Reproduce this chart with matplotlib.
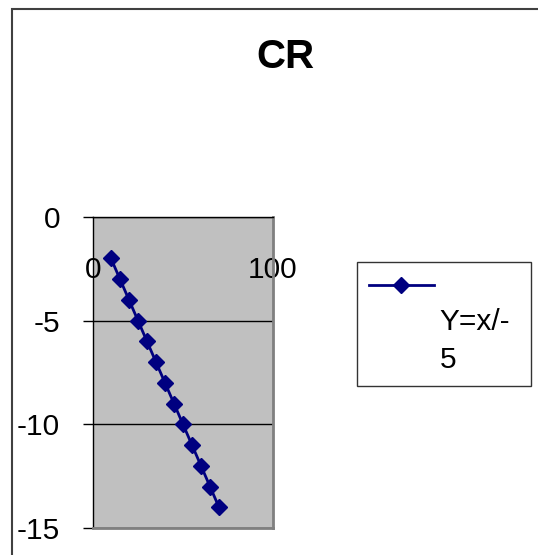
import matplotlib
matplotlib.use("Agg")
import matplotlib.pyplot as plt
from matplotlib.lines import Line2D
from matplotlib.patches import Rectangle

plt.rcParams['font.family'] = ['Liberation Sans', 'DejaVu Sans']
plt.rcParams['axes.unicode_minus'] = False

# series data
x_values = [10, 15, 20, 25, 30, 35, 40, 45, 50, 55, 60, 65, 70]
y_values = [-2, -3, -4, -5, -6, -7, -8, -9, -10, -11, -12, -13, -14]
series_label = "Y=x/-\n5"
chart_title = "CR"
x_ticks = [0, 100]
y_ticks = [0, -5, -10, -15]

W, H = 538, 555
fig = plt.figure(figsize=(W / 100, H / 100), dpi=100)
fig.patch.set_facecolor("white")

# chart-area border (top and left edges visible)
fig.patches.append(Rectangle((12 / W, -0.1), 1.2, 1.1 - 9 / H,
                             transform=fig.transFigure, fill=False,
                             edgecolor="#404040", linewidth=1.5, clip_on=False))

ax = fig.add_axes([93 / W, 1 - 528 / H, (273 - 93) / W, (528 - 217) / H])
ax.set_facecolor("#c0c0c0")
ax.set_xlim(0, 100)
ax.set_ylim(-15, 0)

ax.set_yticks(y_ticks)
ax.set_yticklabels([str(v) for v in y_ticks])
ax.set_xticks(x_ticks)
ax.set_xticklabels([str(v) for v in x_ticks])

FS = 21.5
ax.tick_params(axis="y", direction="out", length=7.2, width=1, color="black",
               pad=16.5, labelsize=FS)
ax.tick_params(axis="x", length=0, labelbottom=False, labeltop=True,
               pad=-48.5, labelsize=FS)

ax.yaxis.grid(True, color="black", linewidth=1)
ax.xaxis.grid(False)
ax.set_axisbelow(True)

for side in ("left", "top"):
    ax.spines[side].set_color("black")
    ax.spines[side].set_linewidth(1)
for side in ("right", "bottom"):
    ax.spines[side].set_color("#808080")
    ax.spines[side].set_linewidth(2)

line, = ax.plot(x_values, y_values, color="#000080", linewidth=2,
                marker="D", markersize=8.5, markerfacecolor="#000080",
                markeredgecolor="#000080", zorder=3, clip_on=False)

fig.text(285 / W, 1 - 57 / H, chart_title, fontsize=29, fontweight="bold",
         ha="center", va="center")

# legend: marker row on top, label text below it
blank = Line2D([], [], linestyle="none", marker="none")
leg = fig.legend([line, blank], [" ", series_label],
                 loc="upper left",
                 bbox_to_anchor=(357 / W, 1 - 262 / H, (531 - 357) / W, 0),
                 bbox_transform=fig.transFigure, mode="expand",
                 borderaxespad=0, fontsize=FS, handlelength=2.17,
                 handletextpad=0.2, borderpad=0.4, labelspacing=0.2,
                 fancybox=False, frameon=True)
leg.get_frame().set_edgecolor("black")
leg.get_frame().set_linewidth(1)
for t in leg.get_texts():
    t.set_linespacing(1.45)

fig.savefig("out.png", dpi=100)
